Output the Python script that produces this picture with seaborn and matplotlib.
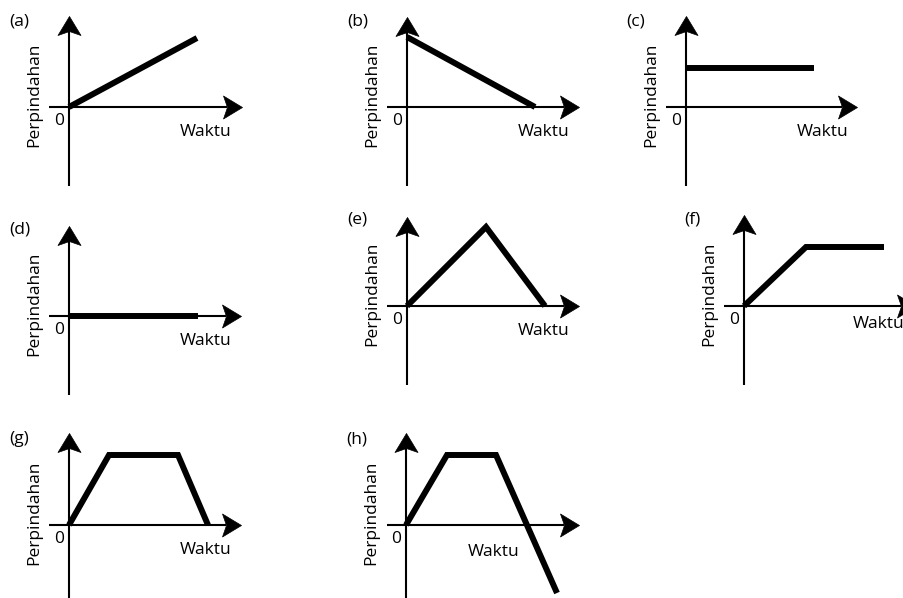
import matplotlib
matplotlib.use("Agg")
import matplotlib.pyplot as plt
from matplotlib.path import Path
import seaborn as sns
import pandas as pd

sns.set_theme(style="white")
plt.rcParams['font.family'] = ['Open Sans', 'DejaVu Sans']

# ---- data (time, displacement) for each panel, arbitrary units ----
panel_labels = ["(a)", "(b)", "(c)", "(d)", "(e)", "(f)", "(g)", "(h)"]
time_a = [0, 12.8];            disp_a = [0, 6.9]
time_b = [0, 12.8];            disp_b = [7.0, 0]
time_c = [0, 12.8];            disp_c = [3.9, 3.9]
time_d = [0, 12.9];            disp_d = [0, 0]
time_e = [0, 7.9, 13.8];       disp_e = [0, 7.9, 0]
time_f = [0, 6.2, 14.0];       disp_f = [0, 5.9, 5.9]
time_g = [0, 4.0, 10.9, 13.9]; disp_g = [0, 7.0, 7.0, 0]
time_h = [0, 4.1, 9.0, 15.1];  disp_h = [0, 7.0, 7.0, -6.8]
x_label = "Waktu"
y_label = "Perpindahan"
origin_label = "0"

series = [(time_a, disp_a), (time_b, disp_b), (time_c, disp_c), (time_d, disp_d),
          (time_e, disp_e), (time_f, disp_f), (time_g, disp_g), (time_h, disp_h)]

# ---- layout (pixel position of each panel's origin) ----
W, H = 904, 598
origins = [(69, 107), (407, 107), (686, 107),
           (69, 316), (407, 306), (744, 306),
           (69, 525), (406, 525)]
# axis extents in units (10 px per unit): x-left, x-tip, y-top tip, y-bottom
axis_ext = [(-2.0, 17.3, 9.1, -7.9), (-2.0, 17.2, 9.0, -7.9), (-2.0, 17.1, 9.1, -7.9),
            (-2.0, 17.2, 9.0, -7.9), (-2.0, 17.2, 8.9, -7.9), (-2.0, 17.2, 9.1, -7.9),
            (-2.0, 17.2, 9.2, -8.5), (-1.9, 17.3, 9.2, -8.5)]
waktu_pos = [(11.1, -2.5)] * 7 + [(6.2, -2.7)]
waktu_pos[5] = (10.9, -1.8)

# arrowhead shapes (tip at origin), in px
L, HW, NOTCH = 19.0, 11.5, 15.0
head_right = Path([(0, 0), (-L, HW), (-NOTCH, 0), (-L, -HW), (0, 0)],
                  [Path.MOVETO, Path.LINETO, Path.LINETO, Path.LINETO, Path.CLOSEPOLY])
head_up = Path([(0, 0), (HW, -L), (0, -NOTCH), (-HW, -L), (0, 0)],
               [Path.MOVETO, Path.LINETO, Path.LINETO, Path.LINETO, Path.CLOSEPOLY])
ms = 2 * L * 0.72

U = 10.0
fig = plt.figure(figsize=(W / 100, H / 100), dpi=100)
fig.patch.set_facecolor("white")

for i, (ox, oy) in enumerate(origins):
    left_px, right_px = ox - 75, ox + 200
    top_px, bot_px = oy - 100, oy + 90
    ax = fig.add_axes([left_px / W, 1 - bot_px / H, (right_px - left_px) / W, (bot_px - top_px) / H])
    ax.set_xlim((left_px - ox) / U, (right_px - ox) / U)
    ax.set_ylim(-(bot_px - oy) / U, (oy - top_px) / U)
    ax.axis("off")
    ax.patch.set_alpha(0)

    xl, xt, yt, yb = axis_ext[i]
    ax.plot([xl, xt - NOTCH / U], [0, 0], color="black", lw=1.5, clip_on=False, solid_capstyle="butt")
    ax.plot([0, 0], [yb, yt - NOTCH / U], color="black", lw=1.5, clip_on=False, solid_capstyle="butt")
    ax.plot([xt], [0], marker=head_right, ms=ms, color="black", mew=0.5, clip_on=False)
    ax.plot([0], [yt], marker=head_up, ms=ms, color="black", mew=0.5, clip_on=False)

    t, s = series[i]
    df = pd.DataFrame({"t": t, "s": s})
    sns.lineplot(data=df, x="t", y="s", ax=ax, color="black", lw=4.3, sort=False,
                 estimator=None, solid_joinstyle="miter", solid_capstyle="butt", clip_on=False)
    ax.set_xlabel("")
    ax.set_ylabel("")

    fs = 12.5
    ax.text(-6.0, 8.6, panel_labels[i], ha="left", va="center", fontsize=fs, color="black")
    ax.text(-1.0, -1.4, origin_label, ha="center", va="center", fontsize=fs, color="black")
    ax.text(waktu_pos[i][0], waktu_pos[i][1], x_label, ha="left", va="center", fontsize=fs, color="black")
    ax.text(-3.5, 1.2, y_label, ha="center", va="center", rotation=90, fontsize=fs, color="black")

fig.savefig("out.png", dpi=100, facecolor="white")
